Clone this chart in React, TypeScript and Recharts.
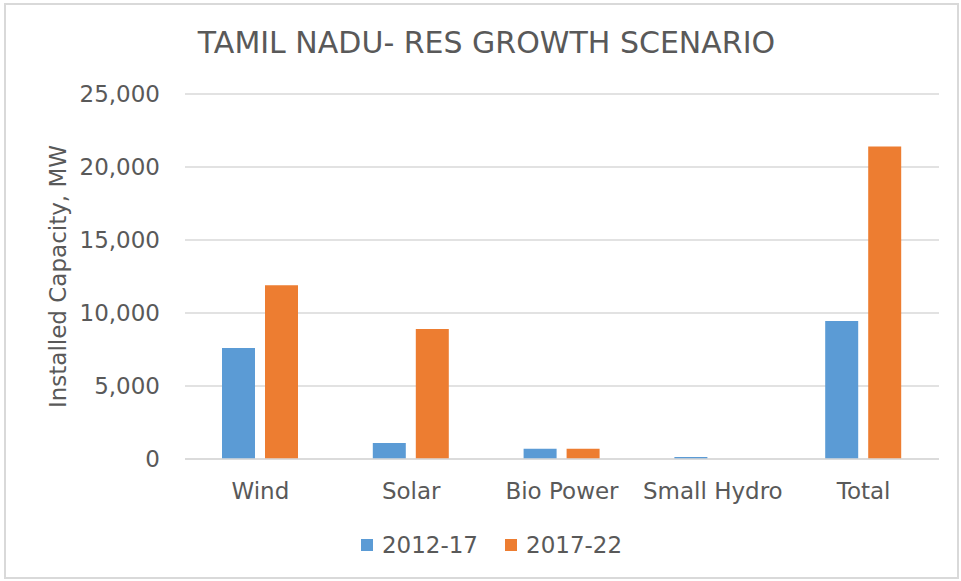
import { BarChart, Bar, XAxis, YAxis, CartesianGrid, Legend } from "recharts";

// Категории и значения (MW)
const categories = ["Wind", "Solar", "Bio Power", "Small Hydro", "Total"];
const plan2012 = [7600, 1100, 700, 140, 9450];
const plan2017 = [11900, 8900, 700, 0, 21400];
const yTicks = [0, 5000, 10000, 15000, 20000, 25000];

const BLUE = "#5B9BD5";
const ORANGE = "#ED7D31";
const TEXT = "#595959";
const GRID = "#D9D9D9";
const FONT = "'DejaVu Sans', Verdana, sans-serif";

const data = categories.map((name, i) => ({
  name,
  p1: plan2012[i],
  p2: plan2017[i],
}));

const LegendBox = () => (
  <div
    style={{
      display: "flex",
      justifyContent: "center",
      alignItems: "center",
      paddingLeft: 22,
      fontFamily: FONT,
      fontSize: 23,
      color: TEXT,
    }}
  >
    {[
      { label: "2012-17", color: BLUE },
      { label: "2017-22", color: ORANGE },
    ].map((it, i) => (
      <div
        key={it.label}
        style={{ display: "flex", alignItems: "center", marginLeft: i ? 27 : 0 }}
      >
        <span
          style={{ width: 12, height: 12, background: it.color, marginRight: 9 }}
        />
        <span>{it.label}</span>
      </div>
    ))}
  </div>
);

const YLabel = (props: any) => {
  const vb = props.viewBox || { x: 0, y: 94, height: 365 };
  const x = 66;
  const y = vb.y + vb.height / 2;
  return (
    <text
      x={x}
      y={y}
      textAnchor="middle"
      fill={TEXT}
      fontSize={23}
      fontFamily={FONT}
      transform={`rotate(-90, ${x}, ${y})`}
    >
      Installed Capacity, MW
    </text>
  );
};

export default function App() {
  return (
    <div
      style={{
        position: "absolute",
        left: 0,
        top: 0,
        width: 961,
        height: 581,
        background: "#fff",
      }}
    >
      <div
        style={{
          position: "absolute",
          left: 4,
          top: 3,
          width: 951,
          height: 572,
          border: `2px solid ${GRID}`,
        }}
      />
      <div
        style={{
          position: "absolute",
          top: 25,
          left: 0,
          width: 973,
          textAlign: "center",
          fontFamily: FONT,
          fontSize: 30,
          color: TEXT,
          lineHeight: "36px",
        }}
      >
        TAMIL NADU- RES GROWTH SCENARIO
      </div>
      <BarChart
        width={961}
        height={581}
        data={data}
        margin={{ top: 94, right: 22, left: 0, bottom: 0 }}
        barGap={10}
        style={{ position: "absolute", left: 0, top: 0 }}
      >
        <CartesianGrid vertical={false} stroke={GRID} strokeWidth={1.5} />
        <XAxis
          dataKey="name"
          height={122}
          tickLine={false}
          tickSize={0}
          tickMargin={24}
          axisLine={{ stroke: GRID, strokeWidth: 1.5 }}
          tick={{ fill: TEXT, fontSize: 23, fontFamily: FONT }}
          interval={0}
        />
        <YAxis
          width={185}
          domain={[0, 25000]}
          ticks={yTicks}
          tickLine={false}
          axisLine={false}
          tickSize={0}
          tickMargin={25}
          tickFormatter={(v: number) => v.toLocaleString("en-US")}
          tick={{ fill: TEXT, fontSize: 23, fontFamily: FONT }}
          label={{ content: YLabel }}
        />
        <Bar dataKey="p1" name="2012-17" fill={BLUE} barSize={33} isAnimationActive={false} />
        <Bar dataKey="p2" name="2017-22" fill={ORANGE} barSize={33} isAnimationActive={false} />
        <Legend
          verticalAlign="middle"
          layout="horizontal"
          align="center"
          content={LegendBox}
          wrapperStyle={{ top: 532, left: 0, width: 961 }}
        />
      </BarChart>
    </div>
  );
}
